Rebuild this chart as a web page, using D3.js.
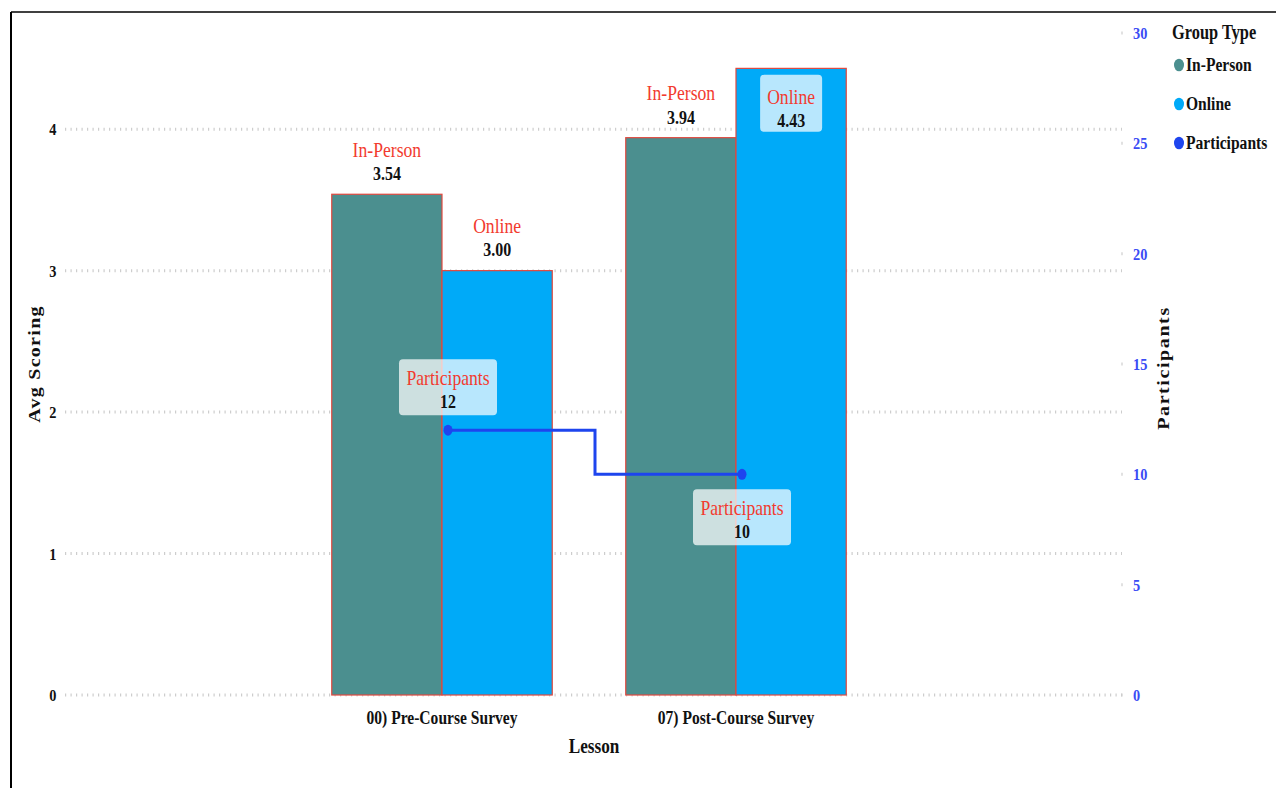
<!DOCTYPE html>
<html>
<head>
<meta charset="utf-8">
<script src="https://cdn.jsdelivr.net/npm/d3@7"></script>
<style>
  html, body { margin: 0; padding: 0; background: #fff; }
  svg { display: block; font-family: "Liberation Serif", "Times New Roman", serif; }
</style>
</head>
<body>
<svg id="chart" width="1276" height="788"></svg>
<script>
// Lessons on the x axis
const lessons = ["00) Pre-Course Survey", "07) Post-Course Survey"];
// Group types drawn as side-by-side bars
const groupTypes = ["In-Person", "Online"];
// Average scoring per lesson, one array per group type
const inPersonScores = [3.54, 3.94];
const onlineScores = [3.00, 4.43];
// Participants per lesson (right axis)
const participants = [12, 10];
// Axis ticks
const scoreTicks = [0, 1, 2, 3, 4];
const participantTicks = [0, 5, 10, 15, 20, 25, 30];

const colors = { "In-Person": "#4b8f8f", "Online": "#00aaf8", "Participants": "#1e45ee" };
const labelRed = "#f23a2e";
// Narrow (condensed) look for all lettering
const SX = 0.82;

const svg = d3.select("#chart");

// Plot frame
const plotTop = 33, plotBottom = 695, gridLeft = 65, gridRight = 1122;

const yLeft = d3.scaleLinear().domain([0, 4.68]).range([plotBottom, plotTop]);
const yRight = d3.scaleLinear().domain([0, 30]).range([plotBottom, plotTop]);
const x = d3.scalePoint().domain(lessons).range([295, 883]).padding(0.5);
const groupWidth = x.step() * 0.75;
const xSub = d3.scaleBand().domain(groupTypes).range([-groupWidth / 2, groupWidth / 2]);

// Condensed text helper
function addText(parent, px, py, str, o = {}) {
  const rot = o.rotate ? ` rotate(${o.rotate})` : "";
  return parent.append("text")
    .attr("transform", `translate(${px},${py}) scale(${SX},1)${rot}`)
    .attr("dy", "0.35em")
    .attr("text-anchor", o.anchor || "start")
    .attr("font-size", o.size || 16)
    .attr("font-weight", o.bold ? "bold" : "normal")
    .attr("letter-spacing", o.spacing || 0)
    .attr("fill", o.fill || "#111")
    .text(str);
}

// Page border
svg.append("line").attr("x1", 11).attr("x2", 11).attr("y1", 12).attr("y2", 788)
  .attr("stroke", "#000").attr("stroke-width", 2);
svg.append("line").attr("x1", 11).attr("x2", 1276).attr("y1", 12).attr("y2", 12)
  .attr("stroke", "#000").attr("stroke-width", 1.5);

// Dotted gridlines at the score ticks
svg.append("g").selectAll("line").data(scoreTicks).join("line")
  .attr("x1", gridLeft).attr("x2", gridRight)
  .attr("y1", d => yLeft(d)).attr("y2", d => yLeft(d))
  .attr("stroke", "#cdcdcd").attr("stroke-width", 3).attr("stroke-dasharray", "1.2,4.3");

// Left axis
const leftAxis = svg.append("g").attr("transform", `translate(${gridLeft - 7},0)`)
  .call(d3.axisLeft(yLeft).tickValues(scoreTicks).tickSize(0).tickPadding(2).tickFormat(d3.format("d")));
leftAxis.select(".domain").remove();
leftAxis.selectAll("text").attr("font-family", "Liberation Serif").attr("font-weight", "bold")
  .attr("font-size", 17.5).attr("fill", "#111").attr("transform", `scale(${SX},1)`);

// Right axis with short tick stubs
svg.append("g").selectAll("line").data(participantTicks).join("line")
  .attr("x1", gridRight - 0.6).attr("x2", gridRight + 0.6)
  .attr("y1", d => yRight(d)).attr("y2", d => yRight(d))
  .attr("stroke", "#cdcdcd").attr("stroke-width", 3);
const rightAxis = svg.append("g").attr("transform", `translate(${gridRight + 11},0)`)
  .call(d3.axisRight(yRight).tickValues(participantTicks).tickSize(0).tickPadding(0));
rightAxis.select(".domain").remove();
rightAxis.selectAll("text").attr("font-family", "Liberation Serif").attr("font-weight", "bold")
  .attr("font-size", 17.5).attr("fill", "#3a4cf5").attr("transform", `scale(${SX},1)`);

// Bars
const barData = [];
lessons.forEach((l, i) => {
  barData.push({ lesson: l, type: "In-Person", value: inPersonScores[i] });
  barData.push({ lesson: l, type: "Online", value: onlineScores[i] });
});
svg.append("g").selectAll("rect").data(barData).join("rect")
  .attr("x", d => x(d.lesson) + xSub(d.type))
  .attr("width", xSub.bandwidth())
  .attr("y", d => yLeft(d.value))
  .attr("height", d => yLeft(0) - yLeft(d.value))
  .attr("fill", d => colors[d.type])
  .attr("stroke", "#e0483e").attr("stroke-width", 1.2);

// Bar labels: series name above value; placed inside the bar when it nears the top
function labelBox(g, cx, cy, w, h) {
  g.append("rect").attr("x", cx - w / 2).attr("y", cy - h / 2).attr("width", w).attr("height", h)
    .attr("rx", 4).attr("fill", "rgba(255,255,255,0.72)");
}
const barLabels = svg.append("g");
barData.forEach(d => {
  const cx = x(d.lesson) + xSub(d.type) + xSub.bandwidth() / 2;
  const yTop = yLeft(d.value);
  const g = barLabels.append("g");
  let nameY, valY;
  if (yTop - 50 < plotTop) {
    nameY = yTop + 28; valY = yTop + 52;
    labelBox(g, cx, yTop + 35, 62, 57);
  } else {
    nameY = yTop - 45; valY = yTop - 21;
  }
  addText(g, cx, nameY, d.type, { anchor: "middle", size: 21.5, fill: labelRed });
  addText(g, cx, valY, d3.format(".2f")(d.value), { anchor: "middle", size: 19.5, bold: true });
});

// Participants step line
const lineOffset = 6;
const pts = lessons.map((l, i) => [x(l) + lineOffset, yRight(participants[i])]);
svg.append("path").datum(pts)
  .attr("d", d3.line().curve(d3.curveStep))
  .attr("fill", "none").attr("stroke", colors.Participants).attr("stroke-width", 3);
svg.append("g").selectAll("ellipse").data(pts).join("ellipse")
  .attr("cx", d => d[0]).attr("cy", d => d[1]).attr("rx", 4.5).attr("ry", 5.5)
  .attr("fill", colors.Participants);

// Participants labels: first above its point, second below
const pl = svg.append("g");
pts.forEach((p, i) => {
  const cx = p[0];
  const cy = i === 0 ? p[1] - 43 : p[1] + 43;
  const g = pl.append("g");
  labelBox(g, cx, cy, 98, 56);
  addText(g, cx, cy - 10, "Participants", { anchor: "middle", size: 21.5, fill: labelRed });
  addText(g, cx, cy + 14, participants[i], { anchor: "middle", size: 19.5, bold: true });
});

// X axis category labels
const catG = svg.append("g");
lessons.forEach(l => addText(catG, x(l), 717, l, { anchor: "middle", size: 19, bold: true }));

// Axis titles
addText(svg, 594, 746, "Lesson", { anchor: "middle", size: 21, bold: true });
addText(svg, 34.5, 364, "Avg Scoring", { anchor: "middle", size: 20, bold: true, spacing: 1.3, rotate: -90 });
addText(svg, 1163.5, 368, "Participants", { anchor: "middle", size: 20, bold: true, spacing: 1.6, rotate: -90 });

// Legend
const legend = svg.append("g");
addText(legend, 1172, 32, "Group Type", { size: 20, bold: true });
const legendItems = ["In-Person", "Online", "Participants"];
const legendY = d3.scalePoint().domain(legendItems).range([64, 142]);
legendItems.forEach(k => {
  legend.append("ellipse").attr("cx", 1179).attr("cy", legendY(k) + 1).attr("rx", 5).attr("ry", 6.3)
    .attr("fill", colors[k]);
  addText(legend, 1186, legendY(k), k, { size: 19, bold: true });
});
</script>
</body>
</html>
